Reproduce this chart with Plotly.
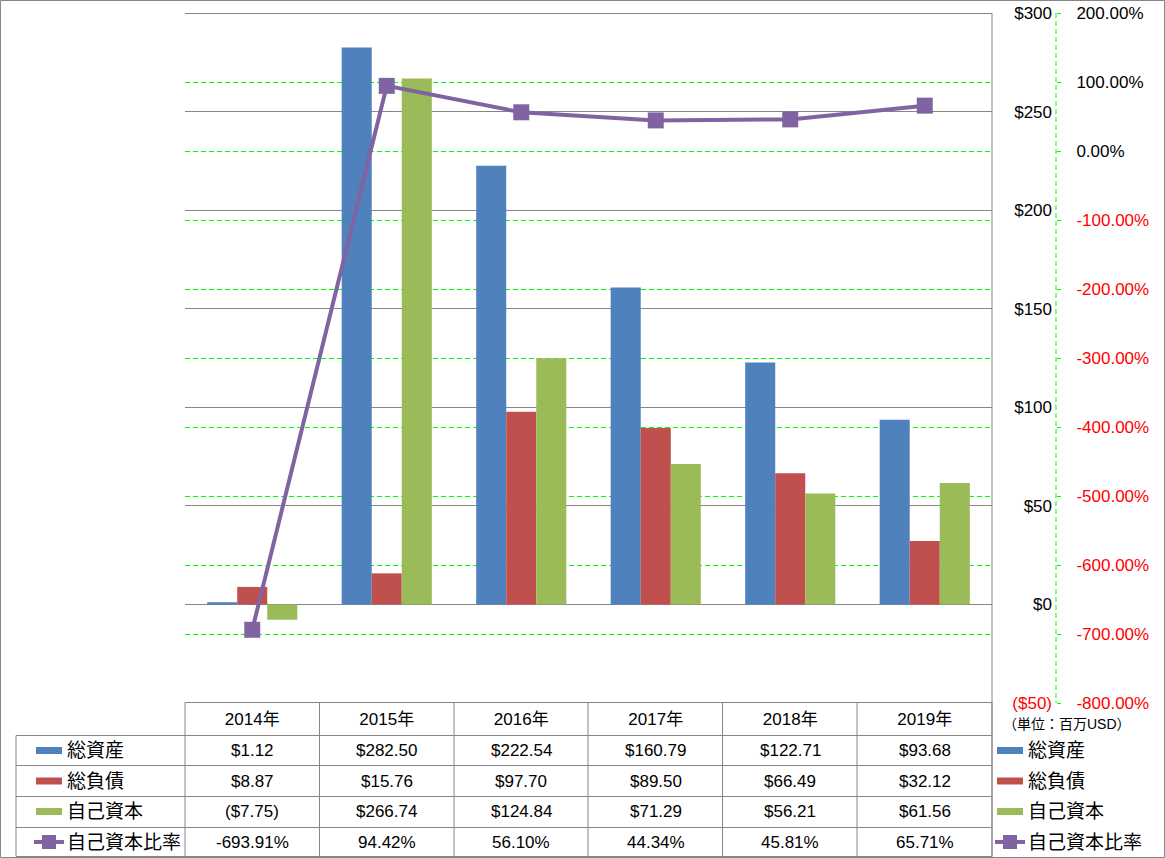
import plotly.graph_objects as go

# ---------------- data ----------------
years = ["2014年", "2015年", "2016年", "2017年", "2018年", "2019年"]
total_assets = [1.12, 282.50, 222.54, 160.79, 122.71, 93.68]
total_liab = [8.87, 15.76, 97.70, 89.50, 66.49, 32.12]
equity = [-7.75, 266.74, 124.84, 71.29, 56.21, 61.56]
equity_ratio = [-693.91, 94.42, 56.10, 44.34, 45.81, 65.71]  # percent
series_names = ["総資産", "総負債", "自己資本", "自己資本比率"]
usd_ticks = [-50, 0, 50, 100, 150, 200, 250, 300]
pct_ticks = [-800, -700, -600, -500, -400, -300, -200, -100, 0, 100, 200]
unit_label = "（単位：百万USD）"

# ---------------- styling ----------------
colors = ["#4F81BD", "#C0504D", "#9BBB59", "#8064A2"]
GRAY = "#868686"
LIME = "#00FF00"
RED = "#FF0000"
FONT = "Liberation Sans, Noto Sans CJK JP, sans-serif"
FS = 17

W_FIG, H_FIG = 1165, 858
ML, MR, MT, MB = 185, 0, 13, 155
PW = W_FIG - ML - MR
PH = H_FIG - MT - MB


def px_x(x):
    return (x - ML) / PW


def px_y(y):
    return (H_FIG - MB - y) / PH


def usd_fmt(v, dec=2):
    s = f"${abs(v):.{dec}f}" if dec else f"${abs(v)}"
    return f"({s})" if v < 0 else s


def usd_tick(v):
    s = usd_fmt(v, 0)
    return f"<span style='color:{RED}'>{s}</span>" if v < 0 else s


def pct_tick(v):
    s = f"{v:.2f}%"
    return f"<span style='color:{RED}'>{s}</span>" if v < 0 else s


fig = go.Figure()
for vals, name, col in zip([total_assets, total_liab, equity], series_names[:3], colors[:3]):
    fig.add_trace(go.Bar(x=years, y=vals, name=name, marker=dict(color=col, line=dict(width=0))))

fig.add_trace(go.Scatter(
    x=years, y=equity_ratio, name=series_names[3], yaxis="y2",
    mode="lines+markers", line=dict(color=colors[3], width=4),
    marker=dict(symbol="square", size=16, color=colors[3], line=dict(width=0)),
))

x_end = px_x(992)
axis_pos = px_x(1056)

fig.update_layout(
    width=W_FIG, height=H_FIG,
    margin=dict(l=ML, r=MR, t=MT, b=MB, pad=0),
    paper_bgcolor="white", plot_bgcolor="white",
    showlegend=False,
    barmode="group", bargap=0.33, bargroupgap=0,
    font=dict(family=FONT, size=FS, color="black"),
    xaxis=dict(domain=[0, x_end], type="category", range=[-0.5, 5.5],
               showgrid=False, zeroline=False, showline=False, ticks="",
               tickfont=dict(size=FS), ticklabelstandoff=4),
    yaxis=dict(range=[-50, 300], tickvals=usd_ticks,
               ticktext=[usd_tick(v) for v in usd_ticks],
               anchor="free", position=axis_pos, side="left",
               showgrid=True, gridcolor=GRAY, gridwidth=1,
               zeroline=False, showline=False, ticks="",
               ticklabelstandoff=4, tickfont=dict(size=FS)),
    yaxis2=dict(range=[-800, 200], tickvals=pct_ticks,
                ticktext=[pct_tick(v) for v in pct_ticks],
                overlaying="y", anchor="free", position=axis_pos, side="right",
                showgrid=True, gridcolor=LIME, gridwidth=1, griddash="5px,3px",
                zeroline=False, showline=False,
                ticks="outside", ticklen=4, tickcolor=LIME, tickwidth=1,
                ticklabelstandoff=12, tickfont=dict(size=FS)),
)

shapes = []
annotations = []


def hline(x0, x1, y, color=GRAY):
    shapes.append(dict(type="line", xref="paper", yref="paper",
                       x0=px_x(x0), x1=px_x(x1), y0=px_y(y), y1=px_y(y),
                       line=dict(color=color, width=1)))


def vline(x, y0, y1, color=GRAY, dash=None):
    ln = dict(color=color, width=1)
    if dash:
        ln["dash"] = dash
    shapes.append(dict(type="line", xref="paper", yref="paper",
                       x0=px_x(x), x1=px_x(x), y0=px_y(y0), y1=px_y(y1), line=ln))


# outer chart border
shapes.append(dict(type="rect", xref="paper", yref="paper",
                   x0=px_x(0.5), x1=px_x(1164.5), y0=px_y(857.5), y1=px_y(0.5),
                   line=dict(color=GRAY, width=1)))

# secondary axis dashed line
vline(1056, 13, 703, LIME, "5px,3px")
# right border of plot / table
vline(992, 13, 856.5)
# top border of plot area
hline(185, 992, 13.5)

# data table grid
col_edges = [185, 319.5, 454, 588, 722.5, 857, 992]
row_edges = [702.5, 735.5, 765.5, 796.5, 827.5, 856.5]
hline(185, 992, row_edges[0])
for y in row_edges[1:]:
    hline(16, 992, y)
for x in col_edges:
    vline(x, row_edges[0], row_edges[-1])
vline(16, row_edges[1], row_edges[-1])

row_centers = [750.5, 781, 811.5, 842]

# table cell values
table_rows = [
    [usd_fmt(v) for v in total_assets],
    [usd_fmt(v) for v in total_liab],
    [usd_fmt(v) for v in equity],
    [f"{v:.2f}%" for v in equity_ratio],
]
for r, row in enumerate(table_rows):
    for yr, txt in zip(years, row):
        annotations.append(dict(xref="x", yref="paper", x=yr, y=px_y(row_centers[r]),
                                text=txt, showarrow=False, xanchor="center", yanchor="middle",
                                font=dict(size=FS)))


def legend_key(x_left, yc, idx):
    col = colors[idx]
    if idx < 3:
        shapes.append(dict(type="rect", xref="paper", yref="paper",
                           x0=px_x(x_left), x1=px_x(x_left + 26),
                           y0=px_y(yc + 3.5), y1=px_y(yc - 3.5),
                           fillcolor=col, line=dict(width=0)))
    else:
        shapes.append(dict(type="line", xref="paper", yref="paper",
                           x0=px_x(x_left - 2), x1=px_x(x_left + 28),
                           y0=px_y(yc), y1=px_y(yc), line=dict(color=col, width=4)))
        shapes.append(dict(type="rect", xref="paper", yref="paper",
                           x0=px_x(x_left + 6), x1=px_x(x_left + 20),
                           y0=px_y(yc + 7), y1=px_y(yc - 7),
                           fillcolor=col, line=dict(width=0)))


for i, name in enumerate(series_names):
    yc = row_centers[i]
    legend_key(36, yc, i)
    annotations.append(dict(xref="paper", yref="paper", x=px_x(65), y=px_y(yc),
                            text=name, showarrow=False, xanchor="left", yanchor="middle",
                            font=dict(size=19)))
    legend_key(997, yc, i)
    annotations.append(dict(xref="paper", yref="paper", x=px_x(1026), y=px_y(yc),
                            text=name, showarrow=False, xanchor="left", yanchor="middle",
                            font=dict(size=19)))

annotations.append(dict(xref="paper", yref="paper", x=px_x(1067), y=px_y(724),
                        text=unit_label, showarrow=False, xanchor="center", yanchor="middle",
                        font=dict(size=14)))

fig.update_layout(shapes=shapes, annotations=annotations)

fig.write_html("out.html", config={"displayModeBar": False},
               post_script="document.body.style.margin='0';")
